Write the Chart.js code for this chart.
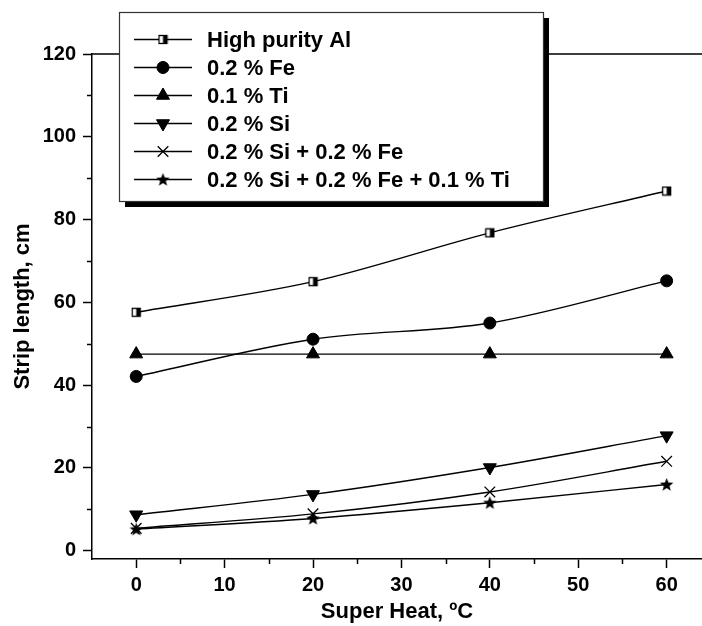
<!DOCTYPE html>
<html>
<head>
<meta charset="utf-8">
<script src="https://cdn.jsdelivr.net/npm/chart.js@4.4.1/dist/chart.umd.min.js"></script>
<style>
  html, body { margin: 0; padding: 0; background: #fff; }
  canvas { display: block; }
</style>
</head>
<body>
<canvas id="stripChart" width="702" height="626"></canvas>
<script>
// Super heat (ºC) on the x axis
const superHeat = [0, 20, 40, 60];

// Strip length, cm
const highPurityAl = [57.6, 65.0, 76.8, 86.9];
const fe02 = [42.1, 51.1, 55.0, 65.2];
const ti01 = [47.5, 47.5, 47.5, 47.5];
const si02 = [8.7, 13.6, 20.1, 27.8];
const siFe = [5.4, 8.9, 14.2, 21.6];
const siFeTi = [5.2, 7.8, 11.6, 16.0];

const seriesLabels = [
  'High purity Al',
  '0.2 % Fe',
  '0.1 % Ti',
  '0.2 % Si',
  '0.2 % Si + 0.2 % Fe',
  '0.2 % Si + 0.2 % Fe + 0.1 % Ti'
];

const xTicks = [0, 10, 20, 30, 40, 50, 60];
const yTicks = [0, 20, 40, 60, 80, 100, 120];
const xMinor = [5, 15, 25, 35, 45, 55];
const yMinor = [10, 30, 50, 70, 90, 110];

const FONT = "'Liberation Sans', Arial, Helvetica, sans-serif";

// custom markers
function halfSquare() {
  const c = document.createElement('canvas');
  c.width = 11; c.height = 11;
  const g = c.getContext('2d');
  g.fillStyle = '#fff';
  g.fillRect(1, 1, 9, 9);
  g.fillStyle = '#000';
  g.fillRect(5.5, 1, 4.5, 9);
  g.strokeStyle = '#000';
  g.lineWidth = 1.3;
  g.strokeRect(1.5, 1.5, 8, 8);
  return c;
}

function filledStar() {
  const c = document.createElement('canvas');
  c.width = 15; c.height = 15;
  const g = c.getContext('2d');
  g.fillStyle = '#000';
  g.beginPath();
  for (let i = 0; i < 10; i++) {
    const r = i % 2 === 0 ? 7 : 3;
    const a = -Math.PI / 2 + i * Math.PI / 5;
    const px = 7.5 + r * Math.cos(a), py = 8 + r * Math.sin(a);
    if (i === 0) g.moveTo(px, py); else g.lineTo(px, py);
  }
  g.closePath();
  g.fill();
  return c;
}

const markerStyles = [
  { pointStyle: halfSquare(), pointRadius: 6, pointRotation: 0 },
  { pointStyle: 'circle', pointRadius: 6, pointRotation: 0 },
  { pointStyle: 'triangle', pointRadius: 7.5, pointRotation: 0 },
  { pointStyle: 'triangle', pointRadius: 7.5, pointRotation: 180 },
  { pointStyle: 'crossRot', pointRadius: 7.5, pointRotation: 0 },
  { pointStyle: filledStar(), pointRadius: 7, pointRotation: 0 }
];

const allSeries = [highPurityAl, fe02, ti01, si02, siFe, siFeTi];

const datasets = allSeries.map((vals, i) => ({
  label: seriesLabels[i],
  data: vals.map((v, j) => ({ x: superHeat[j], y: v })),
  borderColor: '#000',
  backgroundColor: '#000',
  borderWidth: 1.4,
  pointBackgroundColor: '#000',
  pointBorderColor: '#000',
  pointBorderWidth: i === 4 ? 1.3 : 1,
  pointStyle: markerStyles[i].pointStyle,
  pointRadius: markerStyles[i].pointRadius,
  pointRotation: markerStyles[i].pointRotation,
  cubicInterpolationMode: 'monotone',
  fill: false
}));

const decorations = {
  id: 'decorations',
  afterDraw(chart) {
    const { ctx, chartArea, scales } = chart;
    const xs = scales.x, ys = scales.y;
    ctx.save();
    ctx.strokeStyle = '#000';
    ctx.lineWidth = 1.5;
    ctx.beginPath();
    xMinor.forEach(v => {
      const px = Math.round(xs.getPixelForValue(v)) + 0.5;
      ctx.moveTo(px, chartArea.bottom);
      ctx.lineTo(px, chartArea.bottom + 5);
    });
    yMinor.forEach(v => {
      const py = Math.round(ys.getPixelForValue(v)) + 0.5;
      ctx.moveTo(chartArea.left, py);
      ctx.lineTo(chartArea.left - 5, py);
    });
    // top frame line
    ctx.moveTo(chartArea.left, chartArea.top);
    ctx.lineTo(chart.width, chartArea.top);
    ctx.stroke();

    // legend box with drop shadow
    const bx = 119, by = 12, bw = 424, bh = 189;
    ctx.fillStyle = '#000';
    ctx.fillRect(bx + 6, by + 6, bw, bh);
    ctx.fillStyle = '#fff';
    ctx.fillRect(bx, by, bw, bh);
    ctx.strokeStyle = '#333';
    ctx.lineWidth = 1.2;
    ctx.strokeRect(bx + 0.5, by + 0.5, bw, bh);

    ctx.font = 'bold 22px ' + FONT;
    ctx.textBaseline = 'middle';
    ctx.textAlign = 'left';
    chart.data.datasets.forEach((ds, i) => {
      const ry = 39.5 + i * 28;
      ctx.strokeStyle = '#000';
      ctx.lineWidth = 1.4;
      ctx.beginPath();
      ctx.moveTo(134, ry);
      ctx.lineTo(192, ry);
      ctx.stroke();
      ctx.fillStyle = '#000';
      ctx.lineWidth = ds.pointBorderWidth;
      Chart.helpers.drawPoint(ctx, {
        pointStyle: ds.pointStyle,
        radius: ds.pointRadius,
        rotation: ds.pointRotation,
        borderWidth: ds.pointBorderWidth
      }, 163, ry);
      ctx.fillStyle = '#000';
      ctx.fillText(ds.label, 207, ry + 1);
    });
    ctx.restore();
  }
};

new Chart(document.getElementById('stripChart').getContext('2d'), {
  type: 'line',
  data: { datasets },
  options: {
    responsive: false,
    animation: false,
    devicePixelRatio: 1,
    layout: { autoPadding: false, padding: { top: 54, right: 0, bottom: 0, left: 0 } },
    plugins: {
      legend: { display: false },
      tooltip: { enabled: false }
    },
    scales: {
      x: {
        type: 'linear',
        min: -5,
        max: 64,
        afterFit: s => { s.height = 67; s.paddingLeft = 0; s.paddingRight = 0; },
        afterBuildTicks: s => { s.ticks = xTicks.map(v => ({ value: v })); },
        ticks: {
          color: '#000',
          padding: 5,
          maxRotation: 0,
          font: { family: FONT, size: 20, weight: 'bold' }
        },
        grid: { drawOnChartArea: false, tickLength: 9, tickWidth: 1.5, tickColor: '#000' },
        border: { color: '#000', width: 1.5 },
        title: {
          display: true,
          text: 'Super Heat, ºC',
          color: '#000',
          padding: { top: 0, bottom: 1 },
          font: { family: FONT, size: 22, weight: 'bold', lineHeight: 1.2 }
        }
      },
      y: {
        type: 'linear',
        min: -2,
        max: 120,
        afterFit: s => { s.width = 92; s.paddingTop = 0; s.paddingBottom = 0; },
        afterBuildTicks: s => { s.ticks = yTicks.map(v => ({ value: v })); },
        ticks: {
          color: '#000',
          padding: 7,
          font: { family: FONT, size: 20, weight: 'bold' }
        },
        grid: { drawOnChartArea: false, tickLength: 9, tickWidth: 1.5, tickColor: '#000' },
        border: { color: '#000', width: 1.5 },
        title: {
          display: true,
          text: 'Strip length, cm',
          color: '#000',
          padding: { top: 10, bottom: 0 },
          font: { family: FONT, size: 22, weight: 'bold', lineHeight: 1.2 }
        }
      }
    }
  },
  plugins: [decorations]
});
</script>
</body>
</html>
